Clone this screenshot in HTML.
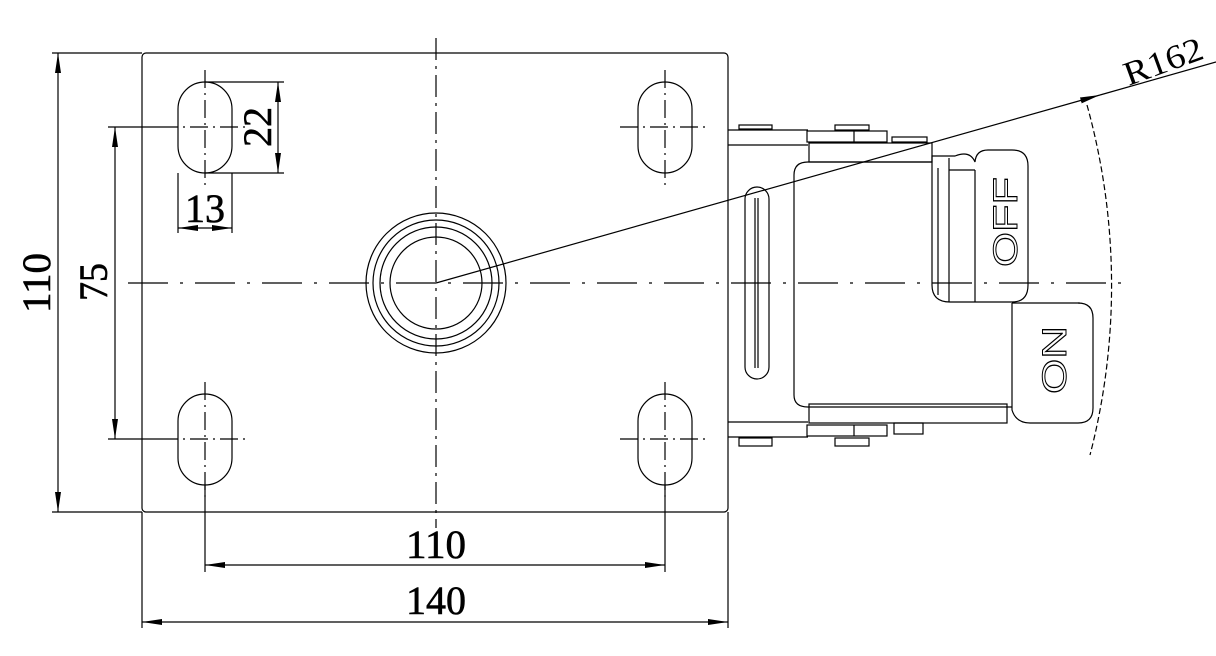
<!DOCTYPE html>
<html><head><meta charset="utf-8"><style>
html,body{margin:0;padding:0;background:#fff;}
svg{display:block}
text{font-family:"Liberation Serif",serif;fill:#000}
</style></head><body>
<svg width="1216" height="656" viewBox="0 0 1216 656" xmlns="http://www.w3.org/2000/svg">
<defs>
<marker id="a" viewBox="0 0 20 8" refX="20" refY="4" markerWidth="20" markerHeight="8" markerUnits="userSpaceOnUse" orient="auto-start-reverse"><path d="M0,1 L20,4 L0,7 Z" fill="#000"/></marker>
</defs>
<g fill="none" stroke="#000" stroke-width="1.2">
<rect x="142" y="53" width="586" height="459" rx="4"/>
<line x1="436" y1="38" x2="436" y2="528" stroke-dasharray="22,6,3,6"/>
<line x1="128" y1="283" x2="1122" y2="283" stroke-dasharray="40,12,3,12"/>
<rect x="178" y="82" width="54" height="91" rx="27"/>
<rect x="638" y="82" width="54" height="91" rx="27"/>
<rect x="178" y="394" width="54" height="91" rx="27"/>
<rect x="638" y="394" width="54" height="91" rx="27"/>
<g stroke-dasharray="18,5,2,5">
<line x1="205" y1="70" x2="205" y2="185"/><line x1="160" y1="127" x2="250" y2="127"/>
<line x1="665" y1="70" x2="665" y2="185"/><line x1="620" y1="127" x2="710" y2="127"/>
<line x1="205" y1="382" x2="205" y2="497"/><line x1="160" y1="439" x2="250" y2="439"/>
<line x1="665" y1="382" x2="665" y2="497"/><line x1="620" y1="439" x2="710" y2="439"/>
</g>
<circle cx="436" cy="283" r="70"/>
<circle cx="436" cy="283" r="63"/>
<circle cx="436" cy="283" r="56"/>
<circle cx="436" cy="283" r="46"/>
<line x1="205" y1="82" x2="284" y2="82"/><line x1="205" y1="173" x2="284" y2="173"/>
<line x1="278" y1="82" x2="278" y2="173" marker-start="url(#a)" marker-end="url(#a)"/>
<line x1="178" y1="173" x2="178" y2="233"/><line x1="232" y1="173" x2="232" y2="233"/>
<line x1="178" y1="228" x2="232" y2="228" marker-start="url(#a)" marker-end="url(#a)"/>
<line x1="108" y1="127" x2="160" y2="127"/><line x1="108" y1="439" x2="160" y2="439"/>
<line x1="115" y1="127" x2="115" y2="439" marker-start="url(#a)" marker-end="url(#a)"/>
<line x1="52" y1="53" x2="142" y2="53"/><line x1="52" y1="512" x2="142" y2="512"/>
<line x1="58" y1="53" x2="58" y2="512" marker-start="url(#a)" marker-end="url(#a)"/>
<line x1="205" y1="485" x2="205" y2="572"/><line x1="665" y1="485" x2="665" y2="572"/>
<line x1="205" y1="565" x2="665" y2="565" marker-start="url(#a)" marker-end="url(#a)"/>
<line x1="142" y1="512" x2="142" y2="628"/><line x1="728" y1="512" x2="728" y2="628"/>
<line x1="142" y1="622" x2="728" y2="622" marker-start="url(#a)" marker-end="url(#a)"/>
<line x1="436" y1="283" x2="1100" y2="95" marker-end="url(#a)"/>
<line x1="1100" y1="95" x2="1216" y2="62"/>
<path d="M1087,105 A676,676 0 0 1 1090,455" stroke-dasharray="6,3"/>
<line x1="728" y1="130" x2="808" y2="130"/><line x1="728" y1="145" x2="808" y2="145"/>
<line x1="728" y1="422" x2="808" y2="422"/><line x1="728" y1="437" x2="808" y2="437"/>
<rect x="739" y="125" width="33" height="4"/><rect x="835" y="125" width="34" height="5"/>
<rect x="807" y="131" width="80" height="11"/><line x1="854" y1="131" x2="854" y2="142"/>
<rect x="892" y="137" width="35" height="5"/>
<rect x="809" y="143" width="123" height="19"/>
<path d="M932,162 L808,162 Q794,162 794,175 L794,395 Q794,407 808,407 L1012,407"/>
<rect x="809" y="404" width="198" height="19"/>
<rect x="807" y="425" width="80" height="11"/><line x1="854" y1="425" x2="854" y2="436"/>
<rect x="739" y="438" width="33" height="8"/><rect x="835" y="438" width="34" height="8"/>
<rect x="894" y="423" width="29" height="11"/>
<rect x="745" y="187" width="24" height="192" rx="12"/>
<line x1="755" y1="198" x2="755" y2="368"/><line x1="758" y1="198" x2="758" y2="368"/>
<path d="M932,156 L932,285 Q932,302 950,302 L1012,302 Q1028,302 1028,285 L1028,166 Q1028,150 1012,150 L988,150 Q976,150 975,162 Q970,150 955,156 Z"/>
<line x1="949" y1="158" x2="949" y2="302"/><line x1="975" y1="170" x2="975" y2="302"/>
<line x1="949" y1="170" x2="975" y2="170"/>
<line x1="938" y1="168" x2="938" y2="295"/>
<path d="M1012,303 L1012,410 Q1016,423 1030,423 L1078,423 Q1093,423 1093,408 L1093,318 Q1093,303 1078,303"/>
<line x1="1012" y1="303" x2="1080" y2="303"/>
</g>
<g font-size="40" stroke="#000" stroke-width="0.6">
<text x="0" y="0" transform="translate(50,283) rotate(-90)" text-anchor="middle" textLength="60" lengthAdjust="spacingAndGlyphs">110</text>
<text x="0" y="0" transform="translate(107,282) rotate(-90)" text-anchor="middle" textLength="38" lengthAdjust="spacingAndGlyphs">75</text>
<text x="0" y="0" transform="translate(271,127) rotate(-90)" text-anchor="middle" textLength="40" lengthAdjust="spacingAndGlyphs">22</text>
<text x="205" y="222" text-anchor="middle" textLength="40" lengthAdjust="spacingAndGlyphs">13</text>
<text x="436" y="558" text-anchor="middle" textLength="60" lengthAdjust="spacingAndGlyphs">110</text>
<text x="436" y="614" text-anchor="middle" textLength="60" lengthAdjust="spacingAndGlyphs">140</text>
<text x="0" y="0" transform="translate(1167,72) rotate(-20)" text-anchor="middle" font-size="34" stroke-width="0" textLength="82" lengthAdjust="spacingAndGlyphs">R162</text>
</g>
<g font-size="34">
<text x="0" y="0" transform="translate(1017,222) rotate(-90)" text-anchor="middle" textLength="90" lengthAdjust="spacingAndGlyphs" style="fill:none;stroke:#000;stroke-width:1;font-family:'Liberation Sans',sans-serif">OFF</text>
<text x="0" y="0" transform="translate(1066,360) rotate(-90)" text-anchor="middle" textLength="68" lengthAdjust="spacingAndGlyphs" style="fill:none;stroke:#000;stroke-width:1;font-family:'Liberation Sans',sans-serif">ON</text>
</g>
</svg>
</body></html>
